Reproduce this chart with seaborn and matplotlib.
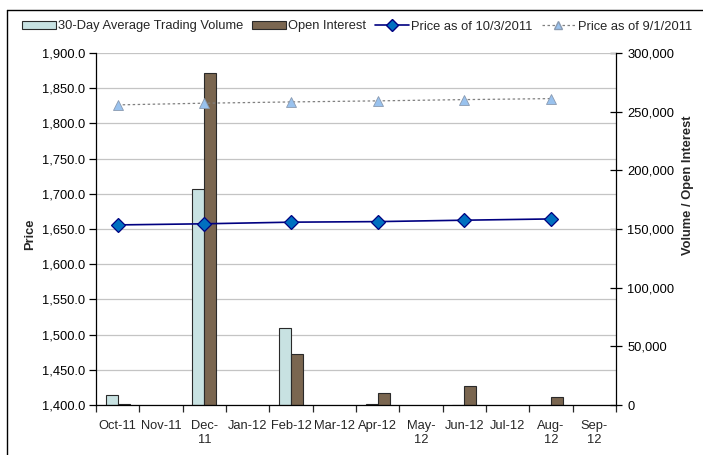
import numpy as np
import pandas as pd
import matplotlib
matplotlib.use("Agg")
import matplotlib.pyplot as plt
import seaborn as sns
from matplotlib.patches import Patch
from matplotlib.lines import Line2D
from matplotlib.ticker import FuncFormatter, MultipleLocator, FixedLocator

# ---------------- data ----------------
months = ["Oct-11", "Nov-11", "Dec-11", "Jan-12", "Feb-12", "Mar-12",
          "Apr-12", "May-12", "Jun-12", "Jul-12", "Aug-12", "Sep-12"]
month_labels = ["Oct-11", "Nov-11", "Dec-\n11", "Jan-12", "Feb-12", "Mar-12",
                "Apr-12", "May-\n12", "Jun-12", "Jul-12", "Aug-\n12", "Sep-\n12"]
nan = np.nan
volume = [8500, nan, 184000, nan, 65400, nan, 1000, nan, 400, nan, 300, nan]
open_interest = [1100, nan, 283000, nan, 43200, nan, 10000, nan, 16500, nan, 6600, nan]

price_months = ["Oct-11", "Dec-11", "Feb-12", "Apr-12", "Jun-12", "Aug-12"]
price_oct3 = [1655.8, 1657.4, 1659.7, 1660.5, 1662.5, 1664.3]
price_sep1 = [1826.3, 1828.7, 1830.5, 1832.0, 1833.8, 1835.2]

series_names = ["30-Day Average Trading Volume", "Open Interest",
                "Price as of 10/3/2011", "Price as of 9/1/2011"]

# ---------------- style ----------------
sns.set_style("white")
plt.rcParams["font.family"] = ["Liberation Sans", "DejaVu Sans"]
FS = 9.3

vol_color = "#C8E2E2"
oi_color = "#7A6650"
bar_edge = "#2A2A2A"
line1_color = "#000080"
marker1_face = "#0070C0"
line2_color = "#808080"
marker2_face = "#99C2EE"

bars_df = pd.DataFrame({
    "Month": months * 2,
    "Series": [series_names[0]] * len(months) + [series_names[1]] * len(months),
    "Value": volume + open_interest,
})
bars_df = bars_df.dropna()

fig = plt.figure(figsize=(7.03, 4.55), dpi=100)
ax = fig.add_subplot(111)
fig.subplots_adjust(left=96 / 703, right=616 / 703, top=1 - 53 / 455, bottom=1 - 405 / 455)

sns.barplot(data=bars_df, x="Month", y="Value", hue="Series", order=months,
            hue_order=series_names[:2], palette=[vol_color, oi_color],
            width=0.555, edgecolor=bar_edge, linewidth=0.8, errorbar=None,
            legend=False, saturation=1, ax=ax)

ax2 = ax.twinx()
pos = [months.index(m) for m in price_months]
sns.lineplot(x=pos, y=price_sep1, ax=ax2, color=line2_color, linewidth=0.9,
             linestyle=(0, (2, 2)), marker="^", markersize=6.5,
             markerfacecolor=marker2_face, markeredgecolor="#8A9AB0",
             markeredgewidth=0.6)
sns.lineplot(x=pos, y=price_oct3, ax=ax2, color=line1_color, linewidth=1.2,
             marker="D", markersize=7, markerfacecolor=marker1_face,
             markeredgecolor=line1_color, markeredgewidth=0.9)

# ---------------- axes ----------------
ax.set_xlim(-0.5, len(months) - 0.5)
ax.set_ylim(0, 300000)
ax2.set_ylim(1400, 1900)

# bar axis -> right side
ax.yaxis.tick_right()
ax.yaxis.set_label_position("right")
ax.yaxis.set_major_locator(MultipleLocator(50000))
ax.yaxis.set_major_formatter(FuncFormatter(lambda v, p: f"{v:,.0f}"))
ax.yaxis.set_minor_locator(MultipleLocator(30000))
ax.yaxis.remove_overlapping_locs = False
ax.grid(False)
ax.grid(which="minor", axis="y", color="#C4C4C4", linewidth=0.9)
ax.set_axisbelow(True)
ax.tick_params(axis="y", which="major", direction="inout", length=8, width=0.9,
               labelsize=FS, colors="black", pad=4, right=True, left=False)
ax.tick_params(axis="y", which="minor", length=0)
ax.set_ylabel("Volume / Open Interest", fontsize=FS, fontweight="bold")
ax.yaxis.set_label_coords(1.126, 0.625)

# price axis -> left side
ax2.yaxis.tick_left()
ax2.yaxis.set_label_position("left")
ax2.yaxis.set_major_locator(MultipleLocator(50))
ax2.yaxis.set_major_formatter(FuncFormatter(lambda v, p: f"{v:,.1f}"))
ax2.tick_params(axis="y", direction="out", length=5, width=0.9, labelsize=FS,
                colors="black", pad=3, left=True, right=False)
ax2.set_ylabel("Price", fontsize=FS, fontweight="bold")
ax2.yaxis.set_label_coords(-0.115, 0.486)
ax2.grid(False)

# x axis
ax.xaxis.set_major_locator(FixedLocator(np.arange(-0.5, len(months) + 0.5, 1)))
ax.xaxis.set_major_formatter(FuncFormatter(lambda v, p: ""))
ax.xaxis.set_minor_locator(FixedLocator(np.arange(len(months))))
ax.set_xticklabels(month_labels, minor=True)
ax.tick_params(axis="x", which="major", direction="out", length=5, width=0.9,
               bottom=True)
ax.tick_params(axis="x", which="minor", length=0, labelsize=FS, pad=10.5)
for lbl in ax.get_xticklabels(minor=True):
    lbl.set_horizontalalignment("center")
    lbl.set_multialignment("center")
    lbl.set_linespacing(1.32)
ax.set_xlabel("")

# spines
for s in ["top", "left"]:
    ax.spines[s].set_visible(False)
for s in ["top", "right", "bottom"]:
    ax2.spines[s].set_visible(False)
ax.spines["right"].set_color("black")
ax.spines["bottom"].set_color("black")
ax2.spines["left"].set_color("black")
for sp in [ax.spines["right"], ax.spines["bottom"], ax2.spines["left"]]:
    sp.set_linewidth(0.9)

# ---------------- legend ----------------
handles = [
    Patch(facecolor=vol_color, edgecolor=bar_edge, linewidth=0.8),
    Patch(facecolor=oi_color, edgecolor=bar_edge, linewidth=0.8),
    Line2D([], [], color=line1_color, linewidth=1.2, marker="D", markersize=6,
           markerfacecolor=marker1_face, markeredgecolor=line1_color),
    Line2D([], [], color=line2_color, linewidth=0.9, linestyle=(0, (2, 2)),
           marker="^", markersize=5.5, markerfacecolor=marker2_face,
           markeredgecolor="#8A9AB0"),
]
fig.legend(handles, series_names, loc="center", bbox_to_anchor=(357 / 703, 1 - 26.5 / 455),
           ncol=4, frameon=False, fontsize=FS, handlelength=2.6, handleheight=0.55,
           handletextpad=0.2, columnspacing=0.68, borderaxespad=0)

# chart border (top and left visible in reference)
fig.add_artist(Line2D([7 / 703, 7 / 703], [0, 1 - 10 / 455], transform=fig.transFigure,
                      color="black", linewidth=1.0))
fig.add_artist(Line2D([7 / 703, 1], [1 - 10 / 455, 1 - 10 / 455], transform=fig.transFigure,
                      color="black", linewidth=1.0))

fig.savefig("out.png", dpi=100)
